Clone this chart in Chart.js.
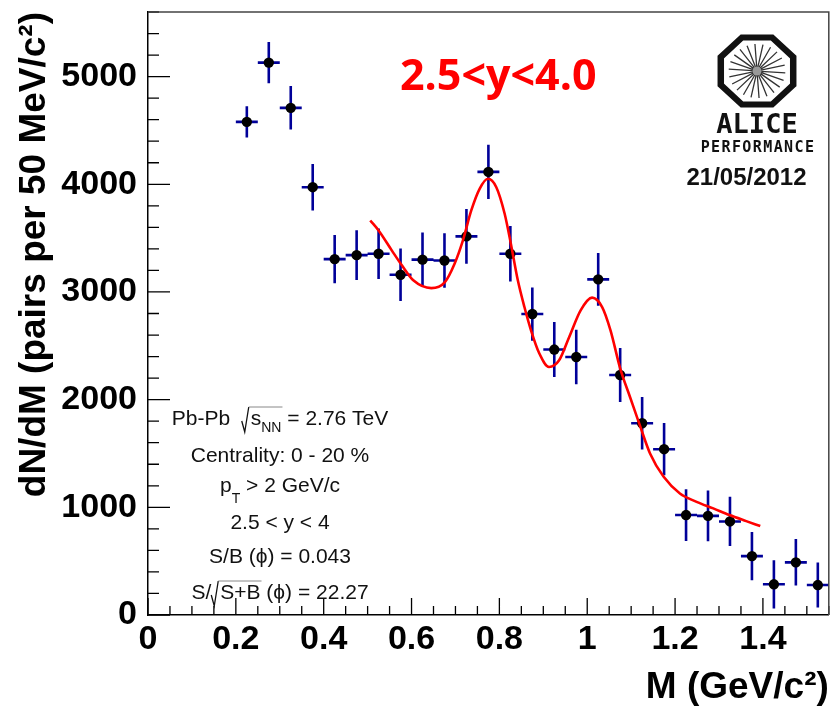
<!DOCTYPE html>
<html lang="en">
<head>
<meta charset="UTF-8" />
<title>Dimuon invariant mass, 2.5&lt;y&lt;4.0</title>
<script src="https://cdn.jsdelivr.net/npm/chart.js"></script>
<style>
  body { margin: 0; background: #fff; }
  canvas { display: block; }
</style>
</head>
<body>
<canvas id="chart" width="834" height="707"></canvas>
<script>
// measured spectrum, 50 MeV/c2 bins
const massBins = [0.225, 0.275, 0.325, 0.375, 0.425, 0.475, 0.525, 0.575, 0.625, 0.675,
                  0.725, 0.775, 0.825, 0.875, 0.925, 0.975, 1.025, 1.075, 1.125, 1.175,
                  1.225, 1.275, 1.325, 1.375, 1.425, 1.475, 1.525];
const pairYield = [4580, 5130, 4710, 3973, 3305, 3342, 3355, 3160, 3300, 3292,
                   3516, 4115, 3355, 2795, 2465, 2396, 3117, 2229, 1781, 1540,
                   928, 921, 869, 547, 285, 489, 278];
const yieldError = [145, 192, 202, 216, 223, 232, 235, 243, 253, 253,
                    255, 252, 258, 247, 255, 253, 244, 250, 244, 242,
                    240, 235, 229, 224, 224, 216, 209];
const binHalfWidth = 0.025;

// fit curve, sampled along the drawn line
const fitMass = [0.506, 0.525, 0.555, 0.578, 0.604, 0.645, 0.676, 0.698, 0.717, 0.736,
                 0.755, 0.774, 0.793, 0.812, 0.826, 0.842, 0.857, 0.872, 0.891, 0.913,
                 0.936, 0.959, 0.985, 1.011, 1.034, 1.053, 1.075, 1.098, 1.121, 1.143,
                 1.174, 1.211, 1.249, 1.287, 1.324, 1.362, 1.394];
const fitYield = [3664, 3571, 3386, 3247, 3108, 3036, 3092, 3262, 3479, 3757,
                  3958, 4051, 3973, 3726, 3451, 3108, 2860, 2644, 2428, 2303,
                  2365, 2582, 2829, 2947, 2860, 2644, 2291, 2018, 1747, 1500,
                  1283, 1129, 1051, 990, 928, 872, 826];

const xTickValues = [0, 0.2, 0.4, 0.6, 0.8, 1, 1.2, 1.4];
const yTickValues = [0, 1000, 2000, 3000, 4000, 5000];
const xMinorStep = 0.05;
const yMinorStep = 200;

const HELV = '"Liberation Sans", Arial, Helvetica, sans-serif';

// vertical + horizontal error bars, under the markers
const errorBars = {
  id: 'errorBars',
  beforeDatasetsDraw(chart) {
    const { ctx, scales: { x, y } } = chart;
    ctx.save();
    ctx.strokeStyle = '#000099';
    ctx.lineWidth = 2.6;
    ctx.beginPath();
    massBins.forEach((m, i) => {
      const px = x.getPixelForValue(m);
      const py = y.getPixelForValue(pairYield[i]);
      ctx.moveTo(x.getPixelForValue(m - binHalfWidth), py);
      ctx.lineTo(x.getPixelForValue(m + binHalfWidth), py);
      ctx.moveTo(px, y.getPixelForValue(pairYield[i] - yieldError[i]));
      ctx.lineTo(px, y.getPixelForValue(pairYield[i] + yieldError[i]));
    });
    ctx.stroke();
    ctx.restore();
  }
};

// text with sub-scripts and square-root signs
function drawRuns(ctx, runs, cx, base) {
  const font = '21px ' + HELV, subFont = '14px ' + HELV;
  let total = 0;
  const widths = runs.map(r => {
    let w = 0;
    if (r.rootOpen) w = 9;
    else if (r.t) { ctx.font = r.sub ? subFont : font; w = ctx.measureText(r.t).width; }
    total += w;
    return w;
  });
  let xp = cx - total / 2;
  let lineStart = 0;
  runs.forEach((r, i) => {
    if (r.rootOpen) {
      ctx.beginPath();
      ctx.lineWidth = 1.3;
      ctx.moveTo(xp, base - 4);
      ctx.lineTo(xp + 3, base + 7);
      ctx.lineTo(xp + 7, base - 18);
      ctx.stroke();
      lineStart = xp + 7;
    } else if (r.rootClose) {
      ctx.beginPath();
      ctx.lineWidth = 1;
      ctx.strokeStyle = '#888';
      ctx.moveTo(lineStart, base - 18);
      ctx.lineTo(xp + 1, base - 18);
      ctx.stroke();
      ctx.strokeStyle = '#111';
    } else {
      ctx.font = r.sub ? subFont : font;
      ctx.fillText(r.t, xp, base + (r.dy || 0));
    }
    xp += widths[i];
  });
}

const infoLines = [
  { base: 425, runs: [{ t: 'Pb-Pb  ' }, { rootOpen: true }, { t: 's' }, { t: 'NN', sub: true, dy: 7 }, { rootClose: true }, { t: ' = 2.76 TeV' }] },
  { base: 461.5, runs: [{ t: 'Centrality: 0 - 20 %' }] },
  { base: 491.5, runs: [{ t: 'p' }, { t: 'T', sub: true, dy: 11 }, { t: ' > 2 GeV/c' }] },
  { base: 529, runs: [{ t: '2.5 < y < 4' }] },
  { base: 563, runs: [{ t: 'S/B (ϕ) = 0.043' }] },
  { base: 599, runs: [{ t: 'S/' }, { rootOpen: true }, { t: 'S+B' }, { rootClose: true }, { t: ' (ϕ) = 22.27' }] }
];

function drawLogo(ctx) {
  const cx = 757, cy = 71;
  ctx.save();
  ctx.translate(cx, cy);
  ctx.save();
  ctx.scale(1.08, 1);
  ctx.beginPath();
  const R = 36.3;
  for (let k = 0; k < 8; k++) {
    const a = Math.PI / 8 + k * Math.PI / 4;
    ctx.lineTo(R * Math.cos(a), R * Math.sin(a));
  }
  ctx.closePath();
  ctx.lineWidth = 6;
  ctx.strokeStyle = '#111';
  ctx.stroke();
  ctx.restore();
  // spokes
  ctx.strokeStyle = '#333';
  ctx.lineWidth = 1.3;
  ctx.beginPath();
  for (let k = 0; k < 22; k++) {
    const a = k * 2 * Math.PI / 22 + 0.07;
    ctx.moveTo(4 * Math.cos(a), 4 * Math.sin(a));
    ctx.lineTo(27 * Math.cos(a) * 1.05, 27 * Math.sin(a));
  }
  ctx.stroke();
  ctx.fillStyle = '#999';
  ctx.beginPath();
  ctx.arc(0, 0, 4.5, 0, 2 * Math.PI);
  ctx.fill();
  ctx.restore();

  ctx.save();
  ctx.fillStyle = '#111';
  ctx.textAlign = 'center';
  ctx.font = 'bold 27px "DejaVu Sans Mono", monospace';
  ctx.fillText('ALICE', 757, 133);
  ctx.font = 'bold 15px "DejaVu Sans Mono", monospace';
  ctx.letterSpacing = '1.4px';
  ctx.fillText('PERFORMANCE', 758, 152);
  ctx.letterSpacing = '0px';
  ctx.font = 'bold 24px ' + HELV;
  ctx.fillText('21/05/2012', 746.5, 185);
  ctx.restore();
}

// ROOT-style frame: inward ticks, top/right edges, labels
const rootFrame = {
  id: 'rootFrame',
  afterDraw(chart) {
    const { ctx, chartArea: a, scales: { x, y } } = chart;
    ctx.save();
    ctx.strokeStyle = '#000';
    ctx.lineWidth = 1.3;
    ctx.beginPath();
    for (let k = 0; k * yMinorStep <= y.max + 1e-6; k++) {
      const v = k * yMinorStep;
      const py = y.getPixelForValue(v);
      const len = v % 1000 === 0 ? 22 : 11;
      ctx.moveTo(a.left, py);
      ctx.lineTo(a.left + len, py);
    }
    for (let k = 0; k * xMinorStep <= x.max + 1e-6; k++) {
      const px = x.getPixelForValue(k * xMinorStep);
      const len = k % 4 === 0 ? 17 : 9;
      ctx.moveTo(px, a.bottom);
      ctx.lineTo(px, a.bottom - len);
    }
    ctx.stroke();

    ctx.strokeStyle = '#444';
    ctx.lineWidth = 1.5;
    ctx.beginPath();
    ctx.moveTo(a.left, a.top);
    ctx.lineTo(a.right, a.top);
    ctx.lineTo(a.right, a.bottom);
    ctx.stroke();

    // rapidity label
    ctx.fillStyle = '#ff0000';
    ctx.font = 'bold 43px "Open Sans", sans-serif';
    ctx.textBaseline = 'alphabetic';
    ctx.fillText('2.5<y<4.0', 400, 90);

    ctx.fillStyle = '#111';
    ctx.strokeStyle = '#111';
    infoLines.forEach(l => drawRuns(ctx, l.runs, 280, l.base));
    ctx.restore();

    drawLogo(ctx);
  }
};

new Chart(document.getElementById('chart'), {
  type: 'scatter',
  data: {
    datasets: [
      {
        type: 'line',
        label: 'fit',
        data: fitMass.map((m, i) => ({ x: m, y: fitYield[i] })),
        borderColor: '#ff0000',
        borderWidth: 2.6,
        pointRadius: 0,
        fill: false,
        cubicInterpolationMode: 'monotone',
        order: 0
      },
      {
        label: 'data',
        data: massBins.map((m, i) => ({ x: m, y: pairYield[i] })),
        pointRadius: 5.2,
        pointBackgroundColor: '#000',
        pointBorderWidth: 0,
        order: 1
      }
    ]
  },
  options: {
    responsive: false,
    animation: false,
    devicePixelRatio: 1,
    layout: { padding: { top: 12, right: 1, left: 0, bottom: 0 } },
    plugins: { legend: { display: false }, tooltip: { enabled: false } },
    scales: {
      x: {
        type: 'linear',
        min: 0,
        max: 1.55,
        afterBuildTicks: s => { s.ticks = xTickValues.map(v => ({ value: v })); },
        afterFit: s => { s.height = 92; s.paddingLeft = 0; s.paddingRight = 0; },
        grid: { display: false, drawTicks: false },
        border: { display: true, color: '#000', width: 1.5 },
        ticks: {
          autoSkip: false,
          maxRotation: 0,
          color: '#000',
          padding: 4,
          font: { family: HELV, size: 34, weight: 'bold' },
          callback: v => String(+v.toFixed(2))
        },
        title: {
          display: true,
          text: 'M (GeV/c²)',
          align: 'end',
          color: '#000',
          font: { family: HELV, size: 37, weight: 'bold', lineHeight: 1 },
          padding: { top: 0, bottom: 1 }
        }
      },
      y: {
        min: 0,
        max: 5600,
        afterBuildTicks: s => { s.ticks = yTickValues.map(v => ({ value: v })); },
        afterFit: s => { s.width = 148; s.paddingTop = 0; s.paddingBottom = 0; },
        grid: { display: false, drawTicks: false },
        border: { display: true, color: '#000', width: 1.5 },
        ticks: {
          autoSkip: false,
          color: '#000',
          padding: 11,
          font: { family: HELV, size: 34, weight: 'bold' },
          callback: v => String(v)
        },
        title: {
          display: true,
          text: 'dN/dM (pairs per 50 MeV/c²)',
          align: 'end',
          color: '#000',
          font: { family: HELV, size: 37, weight: 'bold', lineHeight: 1 },
          padding: { top: 16, bottom: 0 }
        }
      }
    }
  },
  plugins: [errorBars, rootFrame]
});
</script>
</body>
</html>
